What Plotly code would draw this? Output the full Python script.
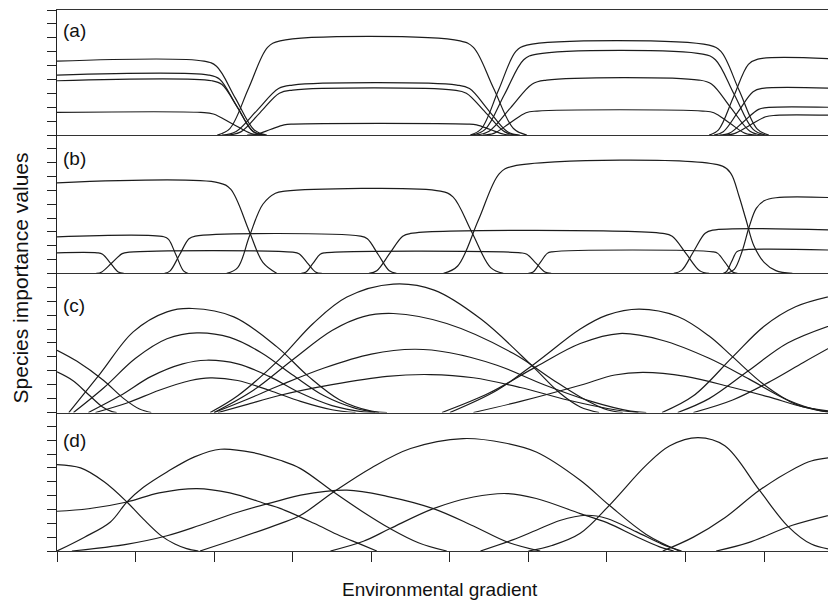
import plotly.graph_objects as go
from plotly.subplots import make_subplots

# ---------------- data (x = position on gradient, y = importance value) -------------
# Panel (a): sixteen species with plateau-shaped responses
A_X = [
    [0, 1.87, 2.03, 2.27, 2.51, 2.67],
    [0, 1.93, 2.07, 2.28, 2.49, 2.63],
    [0, 1.97, 2.10, 2.30, 2.49, 2.62],
    [0, 1.83, 1.99, 2.23, 2.47, 2.63],
    [2.04, 2.20, 2.44, 2.68, 2.84, 5.13, 5.30, 5.555, 5.81, 5.98],
    [2.10, 2.28, 2.55, 2.82, 3.00, 5.09, 5.25, 5.49, 5.73, 5.89],
    [2.17, 2.34, 2.585, 2.83, 3.00, 5.05, 5.21, 5.455, 5.70, 5.86],
    [2.42, 2.54, 2.715, 2.89, 3.01, 5.22, 5.34, 5.515, 5.69, 5.81],
    [5.26, 5.40, 5.62, 5.84, 5.98, 8.30, 8.45, 8.68, 8.91, 9.06],
    [5.28, 5.45, 5.695, 5.94, 6.11, 8.22, 8.38, 8.62, 8.86, 9.02],
    [5.32, 5.50, 5.775, 6.05, 6.23, 8.17, 8.33, 8.575, 8.82, 8.98],
    [5.42, 5.56, 5.765, 5.97, 6.11, 8.22, 8.36, 8.56, 8.76, 8.90],
    [8.30, 8.42, 8.61, 8.80, 8.92, 9.915],
    [8.36, 8.48, 8.67, 8.86, 8.98, 9.915],
    [8.43, 8.56, 8.745, 8.93, 9.06, 9.915],
    [8.49, 8.62, 8.82, 9.02, 9.15, 9.915],
]
A_Y = [
    [5.32, 5.32, 4.95, 2.66, 0.37, 0],
    [4.32, 4.32, 4.02, 2.16, 0.30, 0],
    [3.91, 3.91, 3.64, 1.96, 0.27, 0],
    [1.63, 1.63, 1.52, 0.82, 0.11, 0],
    [0, 0.47, 3.39, 6.31, 6.78, 6.78, 6.31, 3.39, 0.47, 0],
    [0, 0.25, 1.80, 3.35, 3.60, 3.60, 3.35, 1.80, 0.25, 0],
    [0, 0.23, 1.62, 3.01, 3.24, 3.24, 3.01, 1.62, 0.23, 0],
    [0, 0.06, 0.40, 0.73, 0.79, 0.79, 0.73, 0.40, 0.06, 0],
    [0, 0.45, 3.24, 6.02, 6.47, 6.47, 6.02, 3.24, 0.45, 0],
    [0, 0.41, 2.92, 5.42, 5.83, 5.83, 5.42, 2.92, 0.41, 0],
    [0, 0.28, 1.98, 3.68, 3.96, 3.96, 3.68, 1.98, 0.28, 0],
    [0, 0.12, 0.87, 1.61, 1.73, 1.73, 1.61, 0.87, 0.12, 0],
    [0, 0.38, 2.74, 5.09, 5.47, 5.47],
    [0, 0.24, 1.68, 3.12, 3.36, 3.36],
    [0, 0.14, 1.00, 1.85, 1.99, 1.99],
    [0, 0.10, 0.71, 1.32, 1.42, 1.42],
]

# Panel (b): plateau responses with few overlaps
B_X = [
    [0, 2.06, 2.21, 2.45, 2.62, 2.80],
    [0, 1.36, 1.42, 1.515, 1.61, 1.67],
    [0, 0.51, 0.58, 0.68, 0.78, 0.85],
    [0.50, 0.57, 0.70, 0.83, 0.92, 3.00, 3.08, 3.185, 3.29, 3.37],
    [1.37, 1.44, 1.56, 1.68, 1.76, 3.86, 3.95, 4.09, 4.23, 4.32],
    [2.16, 2.30, 2.45, 2.62, 2.78, 2.90, 4.88, 5.04, 5.28, 5.52, 5.68],
    [3.11, 3.17, 3.26, 3.35, 3.41, 5.90, 5.98, 6.095, 6.21, 6.29],
    [3.97, 4.07, 4.235, 4.40, 4.50, 7.71, 7.83, 8.005, 8.18, 8.30],
    [6.00, 6.06, 6.15, 6.24, 6.30, 8.35, 8.41, 8.505, 8.60, 8.66],
    [4.92, 5.10, 5.365, 5.63, 5.81, 8.47, 8.58, 8.68, 8.77, 8.87, 9.00, 9.15, 9.36],
    [7.85, 7.95, 8.10, 8.25, 8.35, 9.915],
    [8.48, 8.52, 8.585, 8.65, 8.70, 9.915],
    [8.52, 8.62, 8.72, 8.81, 8.90, 9.00, 9.15, 9.915],
]
B_Y = [
    [6.55, 6.55, 6.09, 3.00, 0.80, 0],
    [2.65, 2.65, 2.46, 1.33, 0.19, 0],
    [1.49, 1.49, 1.39, 0.75, 0.10, 0],
    [0, 0.11, 0.77, 1.43, 1.54, 1.54, 1.43, 0.77, 0.11, 0],
    [0, 0.19, 1.35, 2.51, 2.70, 2.70, 2.51, 1.35, 0.19, 0],
    [0, 0.42, 2.70, 5.00, 5.80, 5.95, 5.95, 5.53, 2.98, 0.42, 0],
    [0, 0.11, 0.75, 1.39, 1.49, 1.49, 1.39, 0.75, 0.10, 0],
    [0, 0.20, 1.45, 2.69, 2.89, 2.89, 2.69, 1.45, 0.20, 0],
    [0, 0.11, 0.78, 1.45, 1.56, 1.56, 1.45, 0.78, 0.11, 0],
    [0, 0.54, 3.88, 7.22, 7.76, 7.76, 7.20, 5.60, 3.88, 2.00, 0.80, 0.20, 0],
    [0, 0.22, 1.57, 2.91, 3.13, 3.13],
    [0, 0.12, 0.84, 1.56, 1.68, 1.68],
    [0, 0.30, 1.60, 3.37, 4.70, 5.25, 5.47, 5.47],
]

# Panel (c): bell-shaped responses
C_X = [
    [0, 0.25, 0.59, 0.85, 1.05, 1.20],
    [0, 0.20, 0.40, 0.58, 0.70, 0.76],
    [0.15, 0.55, 0.97, 1.40, 1.72, 2.25, 2.80, 3.20, 3.60, 4.00, 4.20],
    [0.21, 0.60, 1.00, 1.40, 1.78, 2.20, 2.60, 3.00, 3.40, 3.80, 4.10],
    [0.40, 0.80, 1.20, 1.60, 1.90, 2.30, 2.70, 3.10, 3.50, 3.90, 4.05],
    [0.49, 0.90, 1.30, 1.70, 1.95, 2.30, 2.70, 3.10, 3.50, 3.80],
    [1.95, 2.30, 2.84, 3.26, 3.69, 4.28, 4.80, 5.40, 6.06, 6.40, 6.66, 6.90],
    [2.00, 2.50, 3.00, 3.50, 3.90, 4.28, 4.96, 5.81, 6.30, 6.66, 7.00, 7.20],
    [2.00, 2.40, 2.84, 3.40, 4.00, 4.55, 5.00, 5.60, 6.20, 6.80, 7.30, 7.50],
    [2.05, 2.40, 2.84, 3.50, 4.20, 4.75, 5.30, 5.90, 6.50, 7.10, 7.40],
    [5.00, 5.60, 6.10, 6.66, 7.00, 7.41, 7.90, 8.30, 8.60, 9.00, 9.40, 9.80, 9.915],
    [4.90, 5.50, 6.10, 6.66, 7.16, 7.70, 8.30, 8.81, 9.30, 9.70, 9.915],
    [5.30, 5.90, 6.66, 7.10, 7.46, 8.00, 8.60, 9.06, 9.50, 9.915],
    [7.70, 8.10, 8.60, 9.00, 9.40, 9.915],
    [7.90, 8.30, 8.80, 9.30, 9.915],
    [8.10, 8.60, 9.10, 9.50, 9.915],
]
C_Y = [
    [4.48, 3.70, 2.32, 1.00, 0.25, 0],
    [2.92, 2.30, 1.30, 0.40, 0.06, 0],
    [0, 2.80, 5.80, 7.24, 7.48, 6.88, 4.72, 2.60, 0.90, 0.10, 0],
    [0, 1.80, 3.90, 5.30, 5.73, 5.40, 4.30, 2.70, 1.20, 0.30, 0],
    [0, 1.20, 2.60, 3.50, 3.76, 3.50, 2.60, 1.40, 0.50, 0.05, 0],
    [0, 0.70, 1.60, 2.30, 2.49, 2.30, 1.60, 0.80, 0.20, 0],
    [0, 1.20, 3.88, 6.40, 8.30, 9.23, 8.80, 6.70, 3.28, 1.40, 0.40, 0],
    [0, 1.60, 3.80, 5.90, 6.90, 7.12, 6.40, 4.24, 2.40, 1.12, 0.20, 0],
    [0, 0.90, 1.96, 3.20, 4.20, 4.55, 4.30, 3.40, 2.00, 0.80, 0.10, 0],
    [0, 0.55, 1.24, 2.00, 2.60, 2.73, 2.50, 1.80, 0.90, 0.20, 0],
    [0, 1.60, 3.60, 6.00, 7.00, 7.43, 6.90, 5.50, 4.00, 2.00, 0.60, 0.05, 0],
    [0, 1.40, 3.30, 4.96, 5.68, 5.20, 3.90, 2.40, 0.90, 0.15, 0],
    [0, 0.80, 1.96, 2.70, 2.88, 2.60, 1.80, 1.12, 0.40, 0.05],
    [0, 1.20, 4.00, 6.20, 7.60, 8.44],
    [0, 1.00, 3.00, 5.00, 6.40],
    [0, 0.90, 2.30, 3.60, 4.91],
]

# Panel (d): unequal bell-shaped responses
D_X = [
    [0, 0.30, 0.60, 0.89, 1.10, 1.32, 1.50, 1.65, 1.80],
    [0, 0.40, 0.89, 1.30, 1.78, 2.20, 2.67, 2.84, 3.27, 3.60, 3.86, 4.07],
    [0, 0.35, 0.68, 0.89, 1.10, 1.40, 1.75, 2.08, 2.50, 2.84, 3.10, 3.52, 3.90, 4.24, 4.60, 4.96],
    [0.19, 0.90, 1.40, 1.82, 2.30, 2.84, 3.10, 3.69, 4.20, 4.79, 5.30, 5.73, 6.15],
    [1.82, 2.30, 2.84, 3.10, 3.52, 4.00, 4.50, 5.17, 5.70, 6.10, 6.66, 7.03, 7.50, 7.92],
    [3.48, 3.90, 4.24, 4.79, 5.30, 5.73, 6.10, 6.66, 7.00, 7.37, 7.67, 7.85],
    [5.39, 5.80, 6.10, 6.40, 6.73, 7.00, 7.37, 7.70, 7.95],
    [6.00, 6.30, 6.66, 7.03, 7.50, 7.80, 8.16, 8.50, 8.94, 9.30, 9.60, 9.915],
    [7.71, 8.10, 8.50, 8.94, 9.40, 9.60, 9.915],
    [8.39, 8.80, 9.36, 9.915],
]
D_Y = [
    [6.24, 6.00, 5.00, 3.54, 2.30, 1.13, 0.50, 0.17, 0],
    [2.87, 3.05, 3.54, 4.20, 4.51, 4.20, 3.38, 3.08, 2.00, 1.10, 0.50, 0],
    [0, 1.00, 2.10, 3.54, 4.60, 5.71, 6.80, 7.35, 7.10, 6.55, 5.95, 4.26, 2.80, 1.62, 0.60, 0],
    [0, 0.50, 1.10, 1.86, 2.80, 3.66, 4.03, 4.39, 3.95, 3.06, 1.80, 0.65, 0],
    [0, 0.90, 1.98, 2.58, 4.26, 6.00, 7.40, 8.12, 7.80, 7.15, 5.11, 3.30, 1.20, 0],
    [0, 0.70, 1.62, 3.06, 3.90, 4.15, 3.79, 2.70, 2.05, 1.05, 0.30, 0],
    [0, 0.80, 1.50, 2.20, 2.58, 2.35, 1.40, 0.50, 0],
    [0, 0.40, 1.28, 3.30, 6.20, 7.60, 8.19, 7.60, 4.39, 1.80, 0.50, 0.05],
    [0, 1.00, 2.40, 4.39, 6.00, 6.50, 6.79],
    [0, 0.60, 1.86, 2.70],
]

PANEL_LABELS = ["(a)", "(b)", "(c)", "(d)"]
X_TITLE = "Environmental gradient"
Y_TITLE = "Species importance values"
X_MAX = 9.915
Y_MAX = [9, 10, 10, 10]

# ---------------- figure -------------
# The page body keeps its default 8 px margin, so the figure is drawn 8 px in
# from the top-left corner; sizes and margins below account for that.
FONT = "Liberation Sans, Arial, Helvetica, sans-serif"
LINE = dict(color="#1c1c1c", width=1.2, shape="spline", smoothing=1)
W, H = 828, 593
ML, MT, MB = 48.7, 2, 50.3
PH = H - MT - MB  # plot height in px

fig = make_subplots(rows=4, cols=1, shared_xaxes=True, vertical_spacing=0,
                    row_heights=[125, 138.3, 139, 138.4])

for row, (xs_list, ys_list) in enumerate([(A_X, A_Y), (B_X, B_Y), (C_X, C_Y), (D_X, D_Y)], start=1):
    for xs, ys in zip(xs_list, ys_list):
        fig.add_trace(go.Scatter(x=xs, y=ys, mode="lines", line=LINE,
                                 showlegend=False, hoverinfo="skip"), row=row, col=1)

for row in range(1, 5):
    fig.update_yaxes(range=[0, Y_MAX[row - 1]], tick0=0, dtick=1, ticks="outside",
                     ticklen=9, tickwidth=1, tickcolor="#222", showticklabels=False,
                     showline=True, linecolor="#222", linewidth=1.2,
                     showgrid=False, zeroline=False, row=row, col=1)
    fig.update_xaxes(range=[0, X_MAX], showline=True, linecolor="#333", linewidth=1.4,
                     showgrid=False, zeroline=False, showticklabels=False,
                     ticks="outside" if row == 4 else "", ticklen=10, tickwidth=1,
                     tickcolor="#222", tick0=0, dtick=1,
                     mirror=(row == 1), row=row, col=1)


def px_to_paper_y(page_y):
    return (H - MB - (page_y - 8)) / PH


def px_to_paper_x(page_x):
    return (page_x - 8 - ML) / (W - ML)


label_y = [30, 158.7, 305.8, 440]
for lab, yy in zip(PANEL_LABELS, label_y):
    fig.add_annotation(text=lab, xref="paper", yref="paper", x=px_to_paper_x(61),
                       y=px_to_paper_y(yy), xanchor="left", yanchor="middle",
                       showarrow=False, font=dict(family=FONT, size=19, color="#111"))

fig.add_annotation(text=X_TITLE, xref="paper", yref="paper", x=px_to_paper_x(440),
                   y=px_to_paper_y(589), xanchor="center", yanchor="middle",
                   showarrow=False, font=dict(family=FONT, size=19, color="#111"))
fig.add_annotation(text=Y_TITLE, xref="paper", yref="paper", x=px_to_paper_x(20),
                   y=px_to_paper_y(278), xanchor="center", yanchor="middle",
                   showarrow=False, textangle=-90,
                   font=dict(family=FONT, size=21, color="#111"))

fig.update_layout(width=W, height=H, margin=dict(l=ML, r=0, t=MT, b=MB),
                  paper_bgcolor="white", plot_bgcolor="white")

fig.write_html("out.html")
